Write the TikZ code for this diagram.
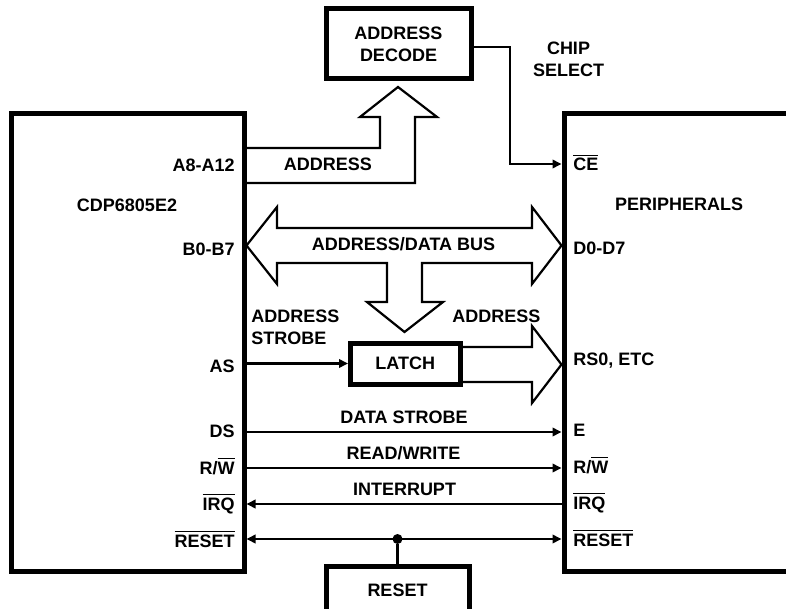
\documentclass[tikz,border=0pt]{standalone}
\usepackage{fontspec}
\setmainfont{Liberation Sans}
\usetikzlibrary{arrows.meta,positioning}
\newcommand{\ovl}[1]{$\overline{\hbox{#1}}$}
\tikzset{
    every node/.append style={align=center,font=\fontsize{9}{11}\selectfont\bfseries},
    chip/.style={rectangle,draw=black,line width=2.5pt,minimum width=116.25pt,
        minimum height=228.75pt,inner sep=0pt},
    blk/.style={rectangle,draw=black,line width=2.5pt,inner sep=0pt},
    bus/.style={draw=black,line width=1.1pt,line join=miter},
    sig/.style={line width=1.2pt},
    arr/.style={sig,-{Triangle[length=4.5pt,width=4.2pt]}},
    barr/.style={sig,{Triangle[length=4.5pt,width=4.2pt]}-{Triangle[length=4.5pt,width=4.2pt]}},
    lbl/.style={inner sep=0pt},
    pinl/.style={lbl,anchor=base east},
    pinr/.style={lbl,anchor=base west},
    jdot/.style={circle,fill=black,inner sep=0pt,minimum size=5pt}
}

\begin{document}
\begin{tikzpicture}[x={(0.5pt,0)},y={(0,-0.5pt)}]
    \path[use as bounding box,clip] (0,0) rectangle (786,609);

    \node[chip] (cpu) at (127.75,342.75) {};
    \node[chip,minimum width=168pt] (per) at (732,342.75) {};
    \node[blk,minimum width=72.5pt,minimum height=35pt] (decode) at (398.5,44) {ADDRESS\\DECODE};
    \node[blk,minimum width=54.75pt,minimum height=20.5pt] (latch) at (405.25,363.5) {LATCH};
    \node[blk,minimum width=71.5pt,minimum height=24pt] (rst) at (397.5,590) {RESET};

    \node[lbl] (cpuname) at (127,205.3) {CDP6805E2};
    \node[lbl] (pername) at (679,204.6) {PERIPHERALS};
    \node[lbl] (chipsel) at (568.5,59.4) {CHIP\\SELECT};
    \node[lbl] (adrtop)  at (328,164.3) {ADDRESS};
    \node[lbl] (buslbl)  at (403.5,244.6) {ADDRESS/DATA BUS};
    \node[lbl,anchor=west,align=left] (aslbl) at (251,327.2) {ADDRESS\\STROBE};
    \node[lbl] (adrlat)  at (496.3,316.3) {ADDRESS};
    \node[lbl] (dslbl)   at (404,416.9) {DATA STROBE};
    \node[lbl] (rwlbl)   at (403.5,453.6) {READ/WRITE};
    \node[lbl] (irqlbl)  at (404.5,489.3) {INTERRUPT};

    % pins of the CDP6805E2
    \node[pinl] (pa8)  at (235,172) {A8-A12};
    \node[pinl] (pb0)  at (235,256) {B0-B7};
    \node[pinl] (pas)  at (235,372) {AS};
    \node[pinl] (pds)  at (235,437) {DS};
    \node[pinl] (prw)  at (235,474) {R/\ovl{W}};
    \node[pinl] (pirq) at (235,510) {\ovl{IRQ}};
    \node[pinl] (prst) at (235,547) {\ovl{RESET}};

    % pins of the peripherals
    \node[pinr] (qce)  at (573,171) {\ovl{CE}};
    \node[pinr] (qd0)  at (573,255) {D0-D7};
    \node[pinr] (qrs)  at (573,365) {RS0, ETC};
    \node[pinr] (qe)   at (573,436) {E};
    \node[pinr] (qrw)  at (573,473) {R/\ovl{W}};
    \node[pinr] (qirq) at (573,509) {\ovl{IRQ}};
    \node[pinr] (qrst) at (573,546) {\ovl{RESET}};

    \draw[bus] (cpu.east |- 0,148) -- (380,148) -- (380,117) -- (360,117) -- (398,87)
        -- (437,117) -- (415,117) -- (415,183) -- (cpu.east |- 0,183);
    \draw[arr] (decode.east |- 0,47) -| (510,164) -- (per.west |- 0,164);
    \draw[bus] (cpu.east |- 0,245.5) -- (277,207) -- (277,228) -- (532,228) -- (532,207)
        -- (per.west |- 0,245.5) -- (532,284) -- (532,263) -- (422,263) -- (422,302)
        -- (443,302) -- (404.5,332) -- (367,302) -- (387,302) -- (387,263) -- (277,263)
        -- (277,284) -- cycle;
    \draw[arr] (cpu.east |- 0,363.5) -- (latch.west);
    \draw[bus] (latch.east |- 0,347) -- (532,347) -- (532,326) -- (per.west |- 0,364.5)
        -- (532,403) -- (532,382) -- (latch.east |- 0,382);
    \draw[arr] (cpu.east |- 0,432) -- (per.west |- 0,432);
    \draw[arr] (cpu.east |- 0,468) -- (per.west |- 0,468);
    \draw[arr] (per.west |- 0,504) -- (cpu.east |- 0,504);
    \node[jdot] (jn) at (397.5,539) {};
    \draw[barr] (cpu.east |- 0,539) -- (per.west |- 0,539);
    \draw[sig] (jn) -- (rst.north);
\end{tikzpicture}
\end{document}
